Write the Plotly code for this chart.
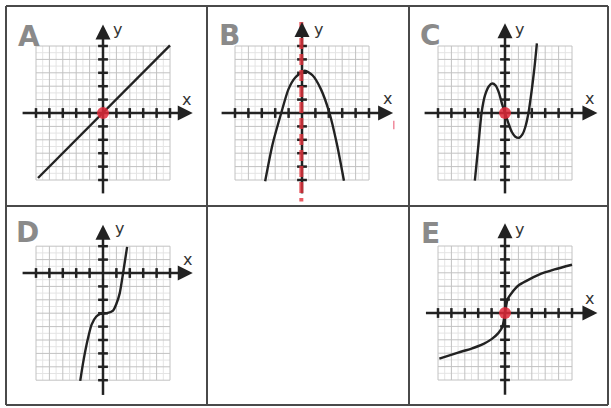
import plotly.graph_objects as go

# ---------------- data ----------------
panel_names = ["A", "B", "C", "D", "E"]

grid_x = list(range(-5, 6))
grid_y_std = list(range(-5, 6))
grid_y_D = list(range(-8, 3))

A_x = [-4.85, 5.0]
A_y = [-4.85, 5.05]

B_x = [-2.75, -2.2, -1.55, -1.0, -0.5, 0.2, 0.8, 1.4, 2.05, 2.6, 3.13]
B_y = [-5.1, -2.35, 0.0, 1.8, 2.65, 3.15, 2.8, 1.8, 0.0, -2.3, -5.05]

C_x = [-2.25, -2.0, -1.75, -1.5, -1.2, -0.95, -0.7, -0.45, -0.2, 0.0, 0.25, 0.5, 0.75, 1.05, 1.3, 1.5, 1.75, 2.0, 2.2, 2.38]
C_y = [-5.05, -2.55, 0.0, 1.3, 2.0, 2.2, 2.05, 1.5, 0.6, 0.0, -0.75, -1.4, -1.75, -1.85, -1.6, -1.1, 0.0, 1.75, 3.4, 5.2]

D_x = [-1.7, -1.45, -1.15, -0.85, -0.5, -0.2, 0.3, 0.75, 1.0, 1.25, 1.5, 1.8]
D_y = [-8.05, -6.5, -5.0, -3.85, -3.25, -3.05, -3.0, -2.8, -2.3, -1.5, 0.0, 1.95]

E_x = [-4.9, -3.5, -2.5, -1.6, -1.0, -0.5, -0.2, 0.0, 0.2, 0.5, 1.0, 1.6, 2.5, 3.7, 5.0]
E_y = [-3.4, -2.95, -2.65, -2.3, -1.95, -1.5, -1.05, 0.0, 1.05, 1.5, 2.05, 2.4, 2.85, 3.25, 3.6]

curves = {"A": (A_x, A_y), "B": (B_x, B_y), "C": (C_x, C_y), "D": (D_x, D_y), "E": (E_x, E_y)}
grid_y = {"A": grid_y_std, "B": grid_y_std, "C": grid_y_std, "D": grid_y_D, "E": grid_y_std}

# axis extents (data units): x-axis from, to ; y-axis from, to
x_axis_ext = {"A": (-6.0, 6.7), "B": (-6.0, 6.8), "C": (-6.0, 6.9), "D": (-6.0, 6.7), "E": (-5.9, 6.9)}
y_axis_ext = {"A": (-6.0, 6.6), "B": (-6.0, 6.8), "C": (-6.0, 6.7), "D": (-9.1, 3.6), "E": (-6.1, 6.7)}

red_dot_panels = ["A", "C", "E"]
B_dash_x = [-0.05, -0.05]
B_dash_y = [6.8, -6.6]

label_pos = {  # (x label, y label) in data units
    "A": ((6.2, 1.0), (1.1, 6.2)),
    "B": ((6.4, 1.1), (1.2, 6.2)),
    "C": ((6.3, 1.1), (1.1, 6.2)),
    "D": ((6.3, 1.0), (1.2, 3.3)),
    "E": ((6.3, 1.1), (1.1, 6.2)),
}

# ---------------- layout (pixels) ----------------
W, H = 611, 408
U = 13.4  # pixels per unit
cells = {  # L, R, T, B
    "A": (8, 206, 8, 205),
    "B": (208, 408, 8, 205),
    "C": (410, 607, 8, 205),
    "D": (8, 206, 208, 404),
    "E": (410, 607, 208, 404),
}
origins = {"A": (103, 113), "B": (302, 113), "C": (505, 113), "D": (103, 273), "E": (505, 313)}
letter_px = {"A": (29, 36), "B": (229, 35), "C": (431, 35), "D": (27, 232), "E": (430, 233)}

INK = "#222222"
fig = go.Figure()
annotations = []
shapes = []

for i, name in enumerate(panel_names):
    idx = "" if i == 0 else str(i + 1)
    xa, ya = "x" + idx, "y" + idx
    L, R, T, B = cells[name]
    ox, oy = origins[name]
    xr = [(L - ox) / U, (R - ox) / U]
    yr = [(oy - B) / U, (oy - T) / U]
    axis_common = dict(showgrid=False, zeroline=False, showticklabels=False, ticks="",
                       showline=False, fixedrange=True, autorange=False)
    fig.layout["xaxis" + idx] = dict(domain=[L / W, R / W], range=xr, anchor=ya, **axis_common)
    fig.layout["yaxis" + idx] = dict(domain=[1 - B / H, 1 - T / H], range=yr, anchor=xa, **axis_common)

    gx = grid_x
    gy = grid_y[name]
    # minor grid (halves)
    mx, my = [], []
    for k in range(len(gx) - 1):
        v = (gx[k] + gx[k + 1]) / 2
        mx += [v, v, None]; my += [gy[0], gy[-1], None]
    for k in range(len(gy) - 1):
        v = (gy[k] + gy[k + 1]) / 2
        mx += [gx[0], gx[-1], None]; my += [v, v, None]
    fig.add_trace(go.Scatter(x=mx, y=my, mode="lines", line=dict(color="#e4e4e4", width=1),
                             hoverinfo="skip", showlegend=False, xaxis=xa, yaxis=ya))
    # major grid
    Mx, My = [], []
    for v in gx:
        Mx += [v, v, None]; My += [gy[0], gy[-1], None]
    for v in gy:
        Mx += [gx[0], gx[-1], None]; My += [v, v, None]
    fig.add_trace(go.Scatter(x=Mx, y=My, mode="lines", line=dict(color="#c2c2c2", width=1),
                             hoverinfo="skip", showlegend=False, xaxis=xa, yaxis=ya))

    # axis lines
    x0, x1 = x_axis_ext[name]
    y0, y1 = y_axis_ext[name]
    fig.add_trace(go.Scatter(x=[x0, x1 - 0.3], y=[0, 0], mode="lines", line=dict(color=INK, width=2.5),
                             hoverinfo="skip", showlegend=False, xaxis=xa, yaxis=ya))
    fig.add_trace(go.Scatter(x=[0, 0], y=[y0, y1 - 0.3], mode="lines", line=dict(color=INK, width=2.5),
                             hoverinfo="skip", showlegend=False, xaxis=xa, yaxis=ya))
    # arrowheads
    annotations.append(dict(x=x1, y=0, ax=x1 - 0.9, ay=0, xref=xa, yref=ya, axref=xa, ayref=ya,
                            text="", showarrow=True, arrowhead=2, arrowsize=1.2, arrowwidth=2.5,
                            arrowcolor=INK))
    annotations.append(dict(x=0, y=y1, ax=0, ay=y1 - 0.9, xref=xa, yref=ya, axref=xa, ayref=ya,
                            text="", showarrow=True, arrowhead=2, arrowsize=1.2, arrowwidth=2.5,
                            arrowcolor=INK))
    # tick marks
    tx = [v for v in gx if v != 0]
    ty = [v for v in gy if v != 0]
    fig.add_trace(go.Scatter(x=tx, y=[0] * len(tx), mode="markers",
                             marker=dict(symbol="line-ns-open", size=7, color=INK,
                                         line=dict(color=INK, width=2.5)),
                             hoverinfo="skip", showlegend=False, xaxis=xa, yaxis=ya))
    fig.add_trace(go.Scatter(x=[0] * len(ty), y=ty, mode="markers",
                             marker=dict(symbol="line-ew-open", size=7, color=INK,
                                         line=dict(color=INK, width=2.5)),
                             hoverinfo="skip", showlegend=False, xaxis=xa, yaxis=ya))

    # curve
    cx, cy = curves[name]
    fig.add_trace(go.Scatter(x=cx, y=cy, mode="lines",
                             line=dict(color=INK, width=2.4, shape="spline", smoothing=0.7),
                             hoverinfo="skip", showlegend=False, xaxis=xa, yaxis=ya))

    if name == "B":
        fig.add_trace(go.Scatter(x=B_dash_x, y=B_dash_y, mode="lines",
                                 line=dict(color="rgba(228,50,60,0.8)", width=4, dash="11px,5px"),
                                 hoverinfo="skip", showlegend=False, xaxis=xa, yaxis=ya))
        fig.add_trace(go.Scatter(x=[6.85], y=[-0.9], mode="markers",
                                 marker=dict(symbol="line-ns-open", size=6, color="rgba(230,60,90,0.6)",
                                             line=dict(color="rgba(230,60,90,0.6)", width=1.5)),
                                 hoverinfo="skip", showlegend=False, xaxis=xa, yaxis=ya))
    if name in red_dot_panels:
        fig.add_trace(go.Scatter(x=[0], y=[0], mode="markers",
                                 marker=dict(size=12, color="rgba(222,40,55,0.85)"),
                                 hoverinfo="skip", showlegend=False, xaxis=xa, yaxis=ya))

    (lxx, lxy), (lyx, lyy) = label_pos[name]
    annotations.append(dict(x=lxx, y=lxy, xref=xa, yref=ya, text="x", showarrow=False,
                            xanchor="center", yanchor="middle",
                            font=dict(family="DejaVu Sans", size=16, color="#333333")))
    annotations.append(dict(x=lyx, y=lyy, xref=xa, yref=ya, text="y", showarrow=False,
                            xanchor="center", yanchor="middle",
                            font=dict(family="DejaVu Sans", size=16, color="#333333")))
    px, py = letter_px[name]
    annotations.append(dict(x=px / W, y=1 - py / H, xref="paper", yref="paper", text="<b>" + name + "</b>",
                            showarrow=False, xanchor="center", yanchor="middle",
                            font=dict(family="DejaVu Sans", size=28, color="#8a8a8a")))

# table borders
border = dict(color="#4a4a4a", width=2)
for (x0p, y0p, x1p, y1p) in [(6, 6, 608, 6), (6, 405, 608, 405), (6, 6, 6, 405), (608, 6, 608, 405),
                             (207, 6, 207, 405), (409, 6, 409, 405), (6, 206, 608, 206)]:
    shapes.append(dict(type="line", xref="paper", yref="paper",
                       x0=x0p / W, x1=x1p / W, y0=1 - y0p / H, y1=1 - y1p / H, line=border))

fig.update_layout(width=W, height=H, margin=dict(l=0, r=0, t=0, b=0),
                  paper_bgcolor="white", plot_bgcolor="rgba(0,0,0,0)",
                  annotations=annotations, shapes=shapes, showlegend=False)
fig.write_html("out.html", config={"displayModeBar": False},
               post_script="document.body.style.margin='0px';document.body.style.overflow='hidden';")
